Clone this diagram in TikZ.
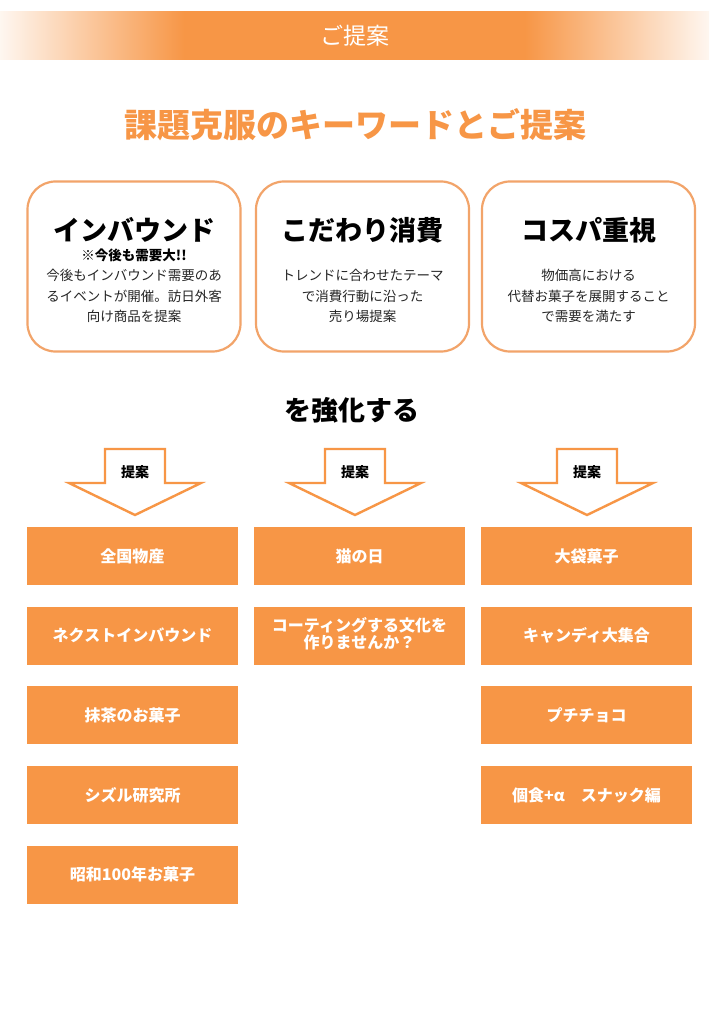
\documentclass[tikz,border=0pt]{standalone}
\usepackage{fontspec}
\setmainfont{Noto Sans CJK JP}
\usepackage{tikz}
\usetikzlibrary{matrix,positioning}

\definecolor{teian}{HTML}{F79646}
\definecolor{waku}{HTML}{F2A46A}

\pgfdeclarehorizontalshading{obi}{100bp}{color(0bp)=(white); color(25bp)=(white!92!teian);
  color(38bp)=(teian); color(62bp)=(teian); color(75bp)=(white!92!teian); color(100bp)=(white)}

\tikzset{
  kbox/.style={draw=waku, line width=2.2pt, rounded corners=28pt, fill=white,
    minimum width=213pt, minimum height=170pt},
  kwtitle/.style={font=\bfseries\fontsize{27}{30}\selectfont},
  kwtext/.style={align=center, text=black!85, font=\fontsize{13.5}{20.5}\selectfont},
  obox/.style={rectangle, fill=teian, text=white, inner sep=0pt, anchor=center,
    minimum width=211pt, minimum height=58pt, font=\bfseries\fontsize{16}{19}\selectfont},
  yajirushi/.style={draw=teian, line width=2.4pt, fill=white, line join=miter}
}

\begin{document}
\begin{tikzpicture}[x=1pt,y=-1pt]

	\useasboundingbox (0,0) rectangle (709,1024);
	\fill[white] (0,0) rectangle (709,1024);

	% header band
	\shade[shading=obi] (0,12) rectangle (709,60);
	\node[text=white, font=\fontsize{23}{26}\selectfont] (hd) at (354.5,36) {ご提案};

	\node[text=teian, font=\bfseries\fontsize{33}{37}\selectfont] (ttl) at (355,125) {課題克服のキーワードとご提案};

	% keyword boxes
	\node[kbox] (kw1) at (134,266.5) {};
	\node[kbox] (kw2) at (362.5,266.5) {};
	\node[kbox] (kw3) at (588.5,266.5) {};

	\node[kwtitle] (h1) at (134,230) {インバウンド};
	\node[font=\bfseries\fontsize{13.5}{16}\selectfont] (h1sub) at (134,255) {※今後も需要大!!};
	\node[kwtext] (b1) at (134,296) {今後もインバウンド需要のあ\\るイベントが開催。訪日外客\\向け商品を提案};

	\node[kwtitle] (h2) at (362.5,230) {こだわり消費};
	\node[kwtext] (b2) at (362.5,296) {トレンドに合わせたテーマ\\で消費行動に沿った\\売り場提案};

	\node[kwtitle] (h3) at (588.5,230) {コスパ重視};
	\node[kwtext] (b3) at (588.5,296) {物価高における\\代替お菓子を展開すること\\で需要を満たす};

	\node[font=\bfseries\fontsize{27}{30}\selectfont] (kyoka) at (352,410) {を強化する};

	% arrows
	\draw[yajirushi] (105,449) -- (165,449) -- (165,483) -- (201,483) -- (135,515) -- (69,483) -- (105,483) -- cycle;
	\draw[yajirushi] (325,449) -- (385,449) -- (385,483) -- (421,483) -- (355,515) -- (289,483) -- (325,483) -- cycle;
	\draw[yajirushi] (557,449) -- (617,449) -- (617,483) -- (653,483) -- (587,515) -- (521,483) -- (557,483) -- cycle;
	\node[font=\bfseries\fontsize{14}{16}\selectfont] (t1) at (135,472) {提案};
	\node[font=\bfseries\fontsize{14}{16}\selectfont] (t2) at (355,472) {提案};
	\node[font=\bfseries\fontsize{14}{16}\selectfont] (t3) at (587,472) {提案};

	% proposals
	\matrix (m) [matrix of nodes, nodes={obox}, column sep=16pt, row sep=21.7pt,
		inner sep=0pt, outer sep=0pt, anchor=north] at (359.5,527) {
		全国物産 & 猫の日 & 大袋菓子 \\
		ネクストインバウンド & {\begin{tabular}{@{}c@{}}コーティングする文化を\\[-3pt]作りませんか？\end{tabular}} & キャンディ大集合 \\
		抹茶のお菓子 & & プチチョコ \\
		シズル研究所 & & 個食+α　スナック編 \\
		昭和100年お菓子 & & \\
	};

\end{tikzpicture}
\end{document}
